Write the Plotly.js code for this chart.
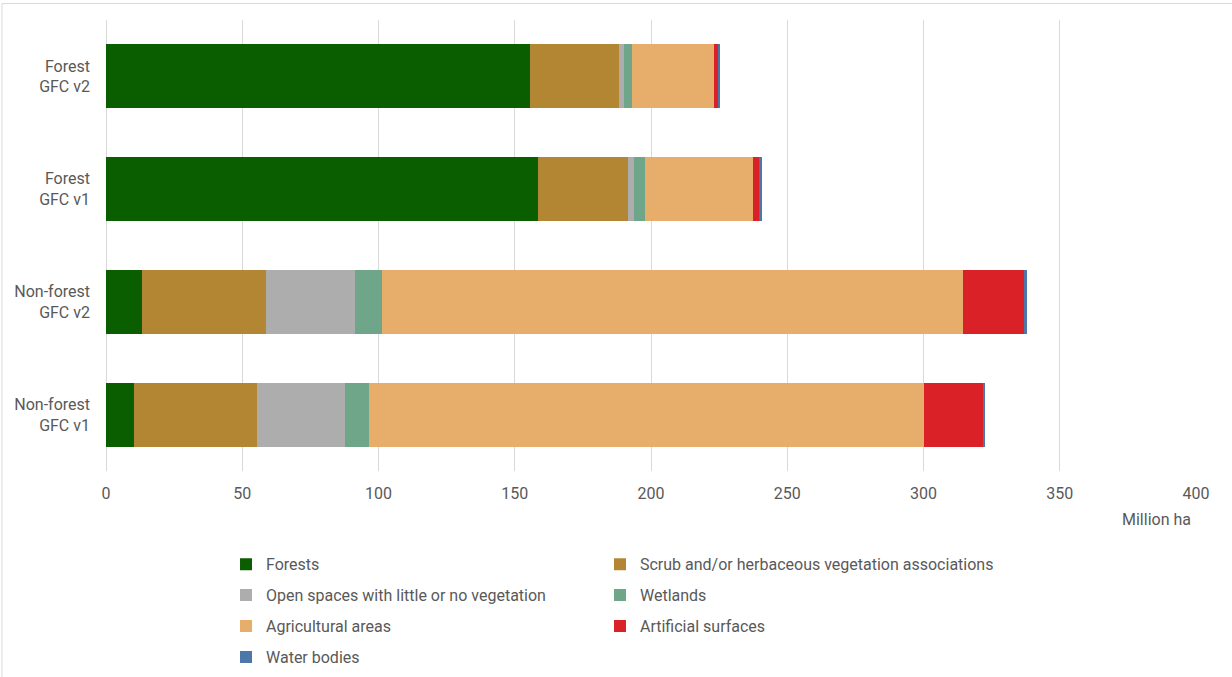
<!DOCTYPE html>
<html>
<head>
<meta charset="utf-8">
<script src="https://cdn.plot.ly/plotly-3.0.1.min.js"></script>
<style>html,body{margin:0;padding:0;background:#fff;}#chart{width:1232px;height:677px;}</style>
</head>
<body>
<div id="chart"></div>
<script>
// Categories, top to bottom
const categories = ["Forest<br>GFC v2", "Forest<br>GFC v1", "Non-forest<br>GFC v2", "Non-forest<br>GFC v1"];

// Series values (million ha), same order as categories
const forests     = [155.6, 158.4, 13.3, 10.4];
const scrub       = [32.7, 33.3, 45.5, 45.0];
const openSpaces  = [1.8, 2.1, 32.6, 32.3];
const wetlands    = [2.8, 4.0, 9.9, 8.7];
const agricultural= [30.1, 39.5, 213.1, 203.6];
const artificial  = [1.7, 2.4, 22.5, 21.7];
const water       = [0.7, 1.0, 1.1, 1.0];

const seriesNames = [
  "Forests",
  "Scrub and/or herbaceous vegetation associations",
  "Open spaces with little or no vegetation",
  "Wetlands",
  "Agricultural areas",
  "Artificial surfaces",
  "Water bodies"
];
const seriesValues = [forests, scrub, openSpaces, wetlands, agricultural, artificial, water];
const seriesColors = ["#0b5e00", "#b38634", "#adadad", "#6fa589", "#e6ad6b", "#da2127", "#4e77a9"];

const xTicks = [0, 50, 100, 150, 200, 250, 300, 350, 400];

const FONT = "Roboto, 'Liberation Sans', sans-serif";
const GREY = "#595959";

// legend grid: two columns, row-major
const legendCols = [0.1101, 0.4532];
const legendRows = [-0.2069, -0.2754, -0.3440, -0.4126];

const legendKeys = seriesNames.map((_, i) => i === 0 ? "legend" : "legend" + (i + 1));

const traces = seriesNames.map((name, i) => ({
  type: "bar",
  orientation: "h",
  name: name,
  y: categories,
  x: seriesValues[i],
  marker: {color: seriesColors[i], line: {width: 0}},
  width: 0.566,
  legend: legendKeys[i],
  hoverinfo: "x+name"
}));

function leg(x, y) {
  return {
    orientation: "v",
    x: x, xanchor: "left",
    y: y, yanchor: "middle",
    traceorder: "normal",
    font: {family: FONT, size: 16, color: GREY},
    bgcolor: "rgba(0,0,0,0)",
    borderwidth: 0
  };
}

const layout = {
  width: 1232, height: 677,
  margin: {l: 106, r: 36, t: 19.5, b: 205.5, pad: 0, autoexpand: false},
  paper_bgcolor: "#ffffff",
  plot_bgcolor: "#ffffff",
  barmode: "stack",
  font: {family: FONT, size: 16, color: GREY},
  xaxis: {
    range: [0, 400],
    tickvals: xTicks,
    ticktext: xTicks.map(String),
    showgrid: true,
    gridcolor: "#d9d9d9",
    gridwidth: 1,
    zeroline: true,
    zerolinecolor: "#d9d9d9",
    zerolinewidth: 1,
    showline: false,
    ticks: "",
    ticklabelstandoff: 11,
    tickfont: {family: FONT, size: 16, color: GREY},
    automargin: false,
    fixedrange: true
  },
  yaxis: {
    type: "category",
    categoryorder: "array",
    categoryarray: categories,
    autorange: "reversed",
    showgrid: false,
    zeroline: false,
    showline: false,
    ticks: "",
    ticklabelstandoff: 15,
    tickfont: {family: FONT, size: 16, color: GREY},
    automargin: false,
    fixedrange: true
  },
  showlegend: true,
  annotations: [{
    xref: "paper", yref: "paper",
    x: 1, y: -0.1073,
    xanchor: "right", yanchor: "middle",
    xshift: -3,
    text: "Million ha",
    showarrow: false,
    font: {family: FONT, size: 16, color: GREY}
  }],
  shapes: [{
    type: "rect", xref: "paper", yref: "paper",
    x0: -0.0954, x1: 1.05, y0: -0.6, y1: 1.0365,
    line: {color: "#d9d9d9", width: 1},
    fillcolor: "rgba(0,0,0,0)",
    layer: "below"
  }]
};

legendKeys.forEach((k, i) => {
  layout[k] = leg(legendCols[i % 2], legendRows[Math.floor(i / 2)]);
});

Plotly.newPlot("chart", traces, layout, {displayModeBar: false, staticPlot: true});
</script>
</body>
</html>
